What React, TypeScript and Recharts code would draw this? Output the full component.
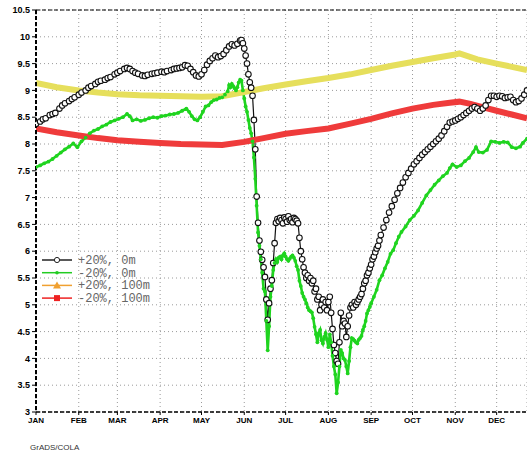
import React from 'react';
import { LineChart, Line, XAxis, YAxis, CartesianGrid, ReferenceLine } from 'recharts';

const monthDays = [0, 31, 59, 90, 120, 151, 181, 212, 243, 273, 304, 334];
const monthLabels = ['JAN', 'FEB', 'MAR', 'APR', 'MAY', 'JUN', 'JUL', 'AUG', 'SEP', 'OCT', 'NOV', 'DEC'];
const yTicks = [3, 3.5, 4, 4.5, 5, 5.5, 6, 6.5, 7, 7.5, 8, 8.5, 9, 9.5, 10, 10.5];

// [day of year, value]
const plus20Surface: [number, number][] = [
  [0, 8.38], [3, 8.42], [5, 8.46], [7, 8.48], [10, 8.54], [12, 8.56], [14, 8.58], [17, 8.66], [19, 8.72], [21, 8.76],
  [24, 8.8], [26, 8.84], [28, 8.87], [31, 8.92], [33, 8.96], [36, 9.0], [38, 9.05], [40, 9.08], [43, 9.12], [45, 9.16],
  [47, 9.18], [50, 9.2], [52, 9.23], [54, 9.25], [57, 9.3], [59, 9.33], [61, 9.36], [64, 9.4], [66, 9.42], [68, 9.4],
  [70, 9.36], [72, 9.33], [74, 9.31], [77, 9.28], [79, 9.27], [81, 9.29], [84, 9.31], [86, 9.32], [88, 9.33], [91, 9.35],
  [93, 9.34], [95, 9.36], [98, 9.38], [100, 9.4], [102, 9.41], [104, 9.42], [106, 9.43], [108, 9.47], [110, 9.46], [112, 9.4],
  [114, 9.34], [116, 9.28], [118, 9.26], [120, 9.3], [122, 9.38], [124, 9.48], [126, 9.55], [128, 9.6], [130, 9.65], [132, 9.62],
  [134, 9.64], [136, 9.68], [138, 9.75], [140, 9.82], [142, 9.86], [144, 9.84], [146, 9.87], [148, 9.93], [149, 9.94], [150, 9.88],
  [151, 9.78], [152, 9.65], [153, 9.5], [154, 9.3], [155, 9.15], [156, 9.05], [157, 8.9], [158, 8.45], [159, 7.9], [160, 7.02],
  [161, 6.53], [162, 6.2], [163, 5.99], [164, 5.84], [165, 5.7], [166, 5.52], [167, 5.1], [168, 4.72], [169, 5.03], [170, 5.3],
  [171, 5.46], [172, 5.78], [173, 6.15], [174, 6.53], [175, 6.6], [176, 6.56], [177, 6.62], [178, 6.58], [179, 6.52], [180, 6.63],
  [181, 6.6], [182, 6.55], [183, 6.65], [184, 6.58], [185, 6.6], [186, 6.54], [187, 6.62], [188, 6.6], [189, 6.57], [190, 6.52],
  [191, 6.25], [192, 6.0], [193, 5.85], [194, 5.7], [195, 5.6], [196, 5.5], [197, 5.55], [198, 5.45], [199, 5.5], [200, 5.4],
  [201, 5.45], [202, 5.25], [203, 5.3], [204, 5.1], [205, 5.15], [206, 4.9], [207, 5.0], [208, 5.1], [209, 4.95], [210, 5.05],
  [211, 4.9], [212, 5.05], [213, 5.15], [214, 4.85], [215, 4.55], [216, 4.25], [217, 4.1], [218, 3.95], [219, 3.9], [220, 4.3],
  [221, 4.85], [222, 4.6], [223, 4.7], [224, 4.65], [225, 4.4], [226, 4.6], [227, 4.8], [228, 4.95], [229, 5.0], [230, 4.95],
  [231, 5.05], [232, 5.0], [233, 5.05], [234, 5.1], [235, 5.15], [236, 5.2], [237, 5.3], [238, 5.4], [239, 5.45], [240, 5.55],
  [241, 5.6], [242, 5.68], [243, 5.75], [244, 5.85], [245, 5.9], [246, 5.98], [247, 6.05], [248, 6.1], [249, 6.2], [250, 6.3],
  [252, 6.44], [254, 6.58], [256, 6.72], [258, 6.84], [260, 6.96], [262, 7.08], [264, 7.18], [266, 7.28], [268, 7.38], [270, 7.46],
  [272, 7.54], [274, 7.62], [276, 7.68], [278, 7.74], [280, 7.8], [282, 7.85], [284, 7.9], [286, 7.95], [288, 8.0], [290, 8.05],
  [292, 8.1], [294, 8.16], [296, 8.24], [298, 8.32], [300, 8.4], [302, 8.42], [304, 8.44], [306, 8.47], [308, 8.5], [310, 8.54],
  [312, 8.58], [314, 8.62], [316, 8.66], [318, 8.69], [320, 8.66], [322, 8.62], [324, 8.66], [326, 8.72], [328, 8.82], [330, 8.9],
  [332, 8.9], [334, 8.88], [336, 8.9], [338, 8.89], [340, 8.86], [342, 8.87], [344, 8.88], [346, 8.82], [348, 8.78], [350, 8.8],
  [352, 8.85], [354, 8.92], [356, 9.0],
];

const minus20Surface: [number, number][] = [
  [0, 7.57], [3, 7.6], [6, 7.64], [9, 7.67], [12, 7.72], [15, 7.78], [18, 7.84], [21, 7.9], [24, 7.95], [27, 8.01],
  [30, 7.94], [33, 8.05], [36, 8.12], [39, 8.2], [42, 8.25], [45, 8.28], [48, 8.33], [51, 8.36], [54, 8.41], [57, 8.44],
  [60, 8.47], [63, 8.5], [66, 8.56], [68, 8.52], [70, 8.44], [73, 8.46], [76, 8.43], [79, 8.45], [82, 8.48], [85, 8.5],
  [88, 8.49], [91, 8.52], [94, 8.53], [97, 8.55], [100, 8.56], [103, 8.58], [106, 8.62], [109, 8.66], [111, 8.6], [113, 8.52],
  [115, 8.46], [117, 8.44], [119, 8.5], [121, 8.6], [123, 8.7], [125, 8.72], [127, 8.78], [129, 8.82], [131, 8.83], [133, 8.86],
  [135, 8.87], [137, 8.92], [139, 8.98], [140, 9.1], [141, 9.06], [142, 9.12], [143, 9.08], [144, 9.04], [145, 9.0], [146, 9.06],
  [147, 9.15], [148, 9.2], [149, 9.18], [150, 9.0], [151, 8.85], [152, 8.7], [153, 8.6], [154, 8.45], [155, 8.3], [156, 8.2],
  [157, 8.05], [158, 7.75], [159, 7.35], [160, 6.85], [161, 6.35], [162, 6.1], [163, 5.85], [164, 5.6], [165, 5.3], [166, 5.25],
  [167, 4.7], [168, 4.15], [169, 4.6], [170, 5.15], [171, 5.35], [172, 5.65], [173, 5.78], [174, 5.85], [175, 5.8], [176, 5.88],
  [177, 5.9], [178, 5.85], [179, 5.92], [180, 5.96], [181, 5.9], [182, 5.85], [183, 5.82], [184, 5.86], [185, 5.9], [186, 5.92],
  [187, 5.88], [188, 5.82], [189, 5.72], [190, 5.65], [191, 5.45], [192, 5.35], [193, 5.22], [194, 5.15], [195, 5.1], [196, 5.03],
  [197, 4.95], [198, 4.9], [199, 4.88], [200, 4.86], [201, 4.75], [202, 4.59], [203, 4.45], [204, 4.3], [205, 4.47], [206, 4.53],
  [207, 4.34], [208, 4.28], [209, 4.4], [210, 4.47], [211, 4.35], [212, 4.21], [213, 4.45], [214, 4.3], [215, 4.05], [216, 3.85],
  [217, 3.7], [218, 3.35], [219, 3.55], [220, 3.85], [221, 4.16], [222, 4.1], [223, 4.0], [224, 3.97], [225, 3.85], [226, 3.72],
  [227, 3.95], [228, 4.21], [229, 4.38], [230, 4.36], [231, 4.33], [232, 4.3], [233, 4.28], [234, 4.35], [235, 4.38], [236, 4.42],
  [237, 4.53], [238, 4.6], [239, 4.7], [240, 4.84], [241, 4.9], [242, 4.96], [243, 5.03], [245, 5.15], [247, 5.28], [249, 5.46],
  [251, 5.55], [253, 5.68], [255, 5.8], [257, 5.95], [259, 6.02], [261, 6.15], [263, 6.27], [265, 6.36], [268, 6.46], [271, 6.58],
  [274, 6.66], [277, 6.76], [280, 6.9], [283, 7.04], [286, 7.14], [289, 7.24], [292, 7.32], [295, 7.4], [298, 7.46], [300, 7.55],
  [302, 7.62], [305, 7.57], [308, 7.6], [311, 7.68], [314, 7.74], [317, 7.85], [319, 7.94], [321, 7.85], [324, 7.84], [327, 7.89],
  [330, 8.05], [333, 8.04], [336, 8.02], [339, 8.04], [342, 8.03], [345, 7.94], [348, 7.92], [351, 7.95], [353, 8.02], [356, 8.1],
];

const plus20Deep: [number, number][] = [
  [0, 9.14], [15, 9.06], [31, 9.0], [45, 8.96], [59, 8.93], [75, 8.91], [90, 8.9], [105, 8.89], [120, 8.88], [135, 8.89],
  [151, 8.97], [165, 9.04], [181, 9.11], [196, 9.17], [212, 9.23], [228, 9.3], [243, 9.38], [258, 9.46], [273, 9.53], [288, 9.6],
  [304, 9.67], [307, 9.69], [320, 9.58], [334, 9.5], [345, 9.44], [356, 9.38],
];

const minus20Deep: [number, number][] = [
  [0, 8.29], [15, 8.22], [31, 8.16], [45, 8.11], [59, 8.07], [75, 8.04], [90, 8.02], [105, 8.0], [120, 7.99], [135, 7.98],
  [151, 8.04], [165, 8.11], [181, 8.19], [196, 8.24], [212, 8.29], [228, 8.38], [243, 8.47], [258, 8.57], [273, 8.66], [288, 8.73],
  [300, 8.77], [307, 8.79], [315, 8.75], [325, 8.68], [334, 8.62], [345, 8.55], [356, 8.48],
];

const legendItems = [
  { label: '+20%, 0m', color: '#222', marker: 'circle' },
  { label: '-20%, 0m', color: '#22cc22', marker: 'dot' },
  { label: '+20%, 100m', color: '#f0a030', marker: 'triangle' },
  { label: '-20%, 100m', color: '#ee2222', marker: 'square' },
];

const toRows = (pts: [number, number][]) => pts.map(([day, v]) => ({ day, v }));

const axisFont = { fontSize: 8, fontWeight: 700, fill: '#000', fontFamily: 'Liberation Sans, Arial, sans-serif' };

function GradsLegend() {
  return (
    <svg width={130} height={54} style={{ position: 'absolute', left: 40, top: 252 }}>
      {legendItems.map((it, i) => {
        const y = 8 + i * 12.7;
        return (
          <g key={it.label}>
            <line x1={2} x2={32} y1={y} y2={y} stroke={it.color} strokeWidth={1.5} />
            {it.marker === 'circle' && <circle cx={17} cy={y} r={2.6} fill="#fff" stroke={it.color} strokeWidth={1} />}
            {it.marker === 'dot' && <circle cx={17} cy={y} r={1.8} fill={it.color} />}
            {it.marker === 'triangle' && <polygon points={`${13},${y + 3} ${21},${y + 3} ${17},${y - 4}`} fill={it.color} />}
            {it.marker === 'square' && <rect x={14} y={y - 3} width={6} height={6} fill={it.color} />}
            <text x={38} y={y + 4} fontSize={12} fill="#666" fontFamily="Liberation Mono, monospace">{it.label}</text>
          </g>
        );
      })}
    </svg>
  );
}

export default function App() {
  return (
    <div style={{ position: 'absolute', left: 0, top: 0, width: 527, height: 455, background: '#fff' }}>
      <LineChart width={527} height={455} margin={{ top: 10, right: 0, left: 0, bottom: 23 }}>
        <CartesianGrid stroke="#9a9a9a" strokeDasharray="1 3" />
        <XAxis
          type="number"
          dataKey="day"
          domain={[0, 356]}
          allowDataOverflow
          ticks={monthDays}
          tickFormatter={(d: number) => monthLabels[monthDays.indexOf(d)]}
          tick={axisFont}
          tickSize={3}
          height={20}
          axisLine={{ stroke: '#000', strokeWidth: 1.5, strokeDasharray: '4 2' }}
          tickLine={{ stroke: '#000' }}
          interval={0}
        />
        <YAxis
          type="number"
          domain={[3, 10.5]}
          ticks={yTicks}
          allowDataOverflow
          width={36}
          tick={{ ...axisFont, fontSize: 9 }}
          tickSize={4}
          axisLine={{ stroke: '#000', strokeWidth: 2, strokeDasharray: '4 2' }}
          tickLine={{ stroke: '#000' }}
          interval={0}
        />
        <ReferenceLine y={10.5} stroke="#000" strokeWidth={1.2} strokeDasharray="4 2" />
        <Line
          data={toRows(plus20Surface)}
          dataKey="v"
          name="+20%, 0m"
          stroke="#111"
          strokeWidth={1.2}
          dot={{ r: 2.8, stroke: '#111', strokeWidth: 1.1, fill: '#fff' }}
          isAnimationActive={false}
        />
        <Line
          data={toRows(minus20Surface)}
          dataKey="v"
          name="-20%, 0m"
          stroke="#1fd41f"
          strokeWidth={2.6}
          dot={{ r: 1.9, fill: '#1fd41f', strokeWidth: 0 }}
          isAnimationActive={false}
        />
        <Line
          data={toRows(plus20Deep)}
          dataKey="v"
          name="+20%, 100m"
          stroke="#e6df5c"
          strokeWidth={6}
          dot={false}
          isAnimationActive={false}
        />
        <Line
          data={toRows(minus20Deep)}
          dataKey="v"
          name="-20%, 100m"
          stroke="#ef3b3b"
          strokeWidth={6}
          dot={false}
          isAnimationActive={false}
        />
      </LineChart>
      <GradsLegend />
      <div
        style={{
          position: 'absolute', left: 30, top: 443, fontSize: 8, fontFamily: 'Liberation Sans, Arial, sans-serif', color: '#333',
        }}
      >
        GrADS/COLA
      </div>
    </div>
  );
}
